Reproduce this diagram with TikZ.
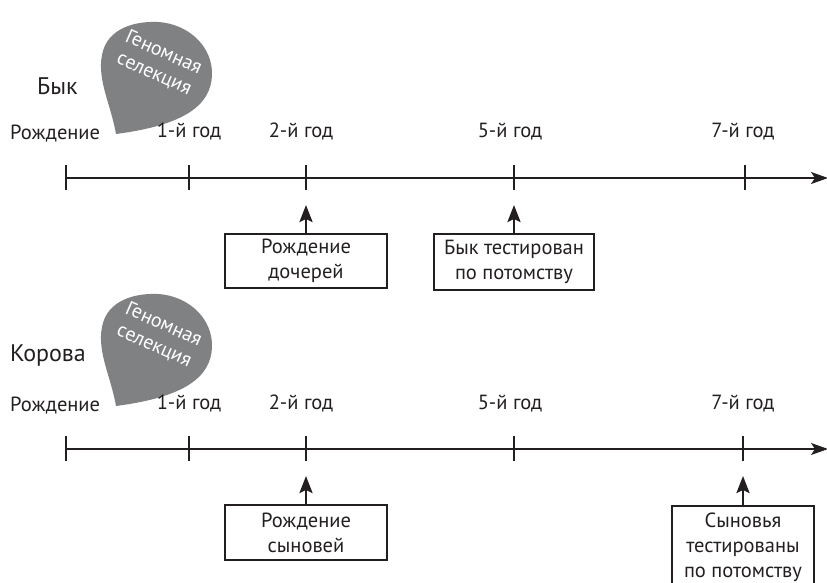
\documentclass[tikz,border=0pt]{standalone}
\usepackage{fontspec}
\setmainfont{PT Sans}
\usetikzlibrary{arrows.meta}
\definecolor{dropgray}{RGB}{128,129,131}
\definecolor{ink}{RGB}{35,31,32}
\tikzset{
  lbl/.style={font=\fontsize{20.5}{22}\selectfont, text=ink, inner sep=0pt},
  big/.style={font=\fontsize{24}{26}\selectfont, text=ink, inner sep=0pt},
  axis/.style={draw=ink, line width=1.3pt, -{Stealth[length=17pt,width=12pt,inset=4pt]}},
  tick/.style={draw=ink, line width=1.2pt},
  up/.style={draw=ink, line width=2.6pt, -{Stealth[length=17pt,width=13pt,inset=3pt]}},
  boxn/.style={draw=ink, line width=1.1pt, font=\fontsize{20.5}{25}\selectfont, text=ink, align=center, inner sep=0pt},
  droptext/.style={font=\fontsize{20}{23}\selectfont, text=white, align=center, rotate=-24, inner sep=0pt}
}
\newcommand{\mydrop}[1]{%
  \fill[dropgray] (116,134+#1) .. controls (111,105+#1) and (97,80+#1) .. (102,55+#1)
    .. controls (107,28+#1) and (135,21+#1) .. (158,22+#1)
    .. controls (190,24+#1) and (213,48+#1) .. (212,75+#1)
    .. controls (211,105+#1) and (185,125+#1) .. cycle;}
\begin{document}
\begin{tikzpicture}[x=1pt,y=-1pt]
\useasboundingbox (0,0) rectangle (827,583);
\begin{scope}
\clip (0,0) rectangle (827,583);
% ---------- Bull ----------
\mydrop{0}
\node[droptext] (g1) at (159,63) {Геномная\\селекция};
\node[big, anchor=west] (byk) at (37,86) {Бык};
\node[lbl, anchor=west] (r1) at (10,134) {Рождение};
\node[lbl] (y11) at (189,132) {1-й год};
\node[lbl] (y12) at (301,132) {2-й год};
\node[lbl] (y15) at (510,132) {5-й год};
\node[lbl] (y17) at (743,132) {7-й год};
\coordinate (a1s) at (66,178);
\coordinate (a1e) at (828,178);
\draw[axis] (a1s) -- (a1e);
\foreach \x in {66,189,306,514,745} \draw[tick] (\x,165) -- (\x,190);
\node[boxn, minimum width=162pt, minimum height=54pt] (b1) at (306,261) {Рождение\\дочерей};
\node[boxn, minimum width=160pt, minimum height=56pt] (b2) at (514,262) {Бык тестирован\\по потомству};
\coordinate (t12) at (306,205);
\coordinate (t15) at (514,205);
\draw[up] (b1.north) -- (t12);
\draw[up] (b2.north) -- (t15);
% ---------- Cow ----------
\mydrop{272}
\node[droptext] (g2) at (159,335) {Геномная\\селекция};
\node[big, anchor=west] (kor) at (10,355) {Корова};
\node[lbl, anchor=west] (r2) at (10,406) {Рождение};
\node[lbl] (y21) at (189,404) {1-й год};
\node[lbl] (y22) at (301,404) {2-й год};
\node[lbl] (y25) at (510,404) {5-й год};
\node[lbl] (y27) at (743,404) {7-й год};
\coordinate (a2s) at (66,449);
\coordinate (a2e) at (828,449);
\draw[axis] (a2s) -- (a2e);
\foreach \x in {66,189,306,514,743} \draw[tick] (\x,436) -- (\x,461);
\node[boxn, minimum width=162pt, minimum height=55pt] (b3) at (306,532.5) {Рождение\\сыновей};
\node[boxn, minimum width=142pt, minimum height=82pt] (b4) at (743,547) {Сыновья\\тестированы\\по потомству};
\coordinate (t22) at (306,476);
\coordinate (t27) at (743,476);
\draw[up] (b3.north) -- (t22);
\draw[up] (b4.north) -- (t27);
\end{scope}
\end{tikzpicture}
\end{document}
